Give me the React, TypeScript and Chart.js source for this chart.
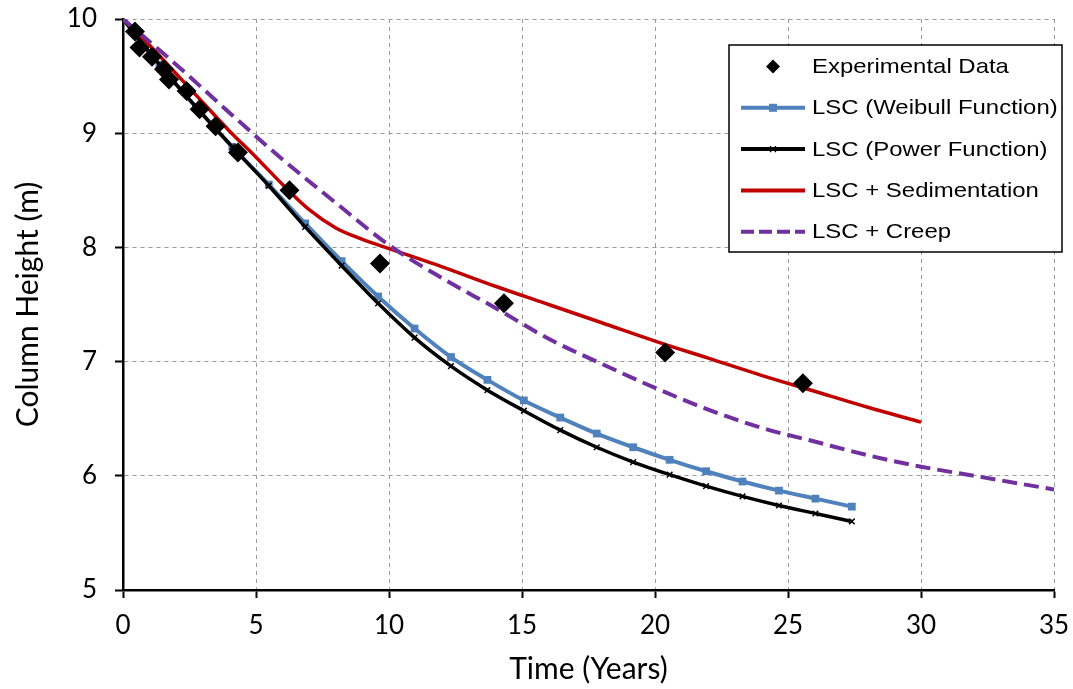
import React, { useEffect, useRef } from "react";
import { Chart, registerables } from "chart.js";

Chart.register(...registerables);

// ---- Data ----
const expX = [0.45, 0.62, 1.09, 1.54, 1.73, 2.39, 2.88, 3.48, 4.32, 6.26, 9.66, 14.32, 20.38, 25.56];
const expY = [9.89, 9.75, 9.67, 9.56, 9.47, 9.37, 9.21, 9.06, 8.83, 8.5, 7.86, 7.51, 7.08, 6.81];

const weibullX = [0, 1.37, 2.74, 4.11, 5.48, 6.85, 8.22, 9.59, 10.96, 12.33, 13.7, 15.07, 16.44, 17.81, 19.18, 20.55, 21.92, 23.29, 24.66, 26.03, 27.4];
const weibullY = [10, 9.6, 9.23, 8.88, 8.55, 8.21, 7.88, 7.57, 7.29, 7.04, 6.84, 6.66, 6.51, 6.37, 6.25, 6.14, 6.04, 5.95, 5.87, 5.8, 5.73];

const powerX = [0, 1.37, 2.74, 4.11, 5.48, 6.85, 8.22, 9.59, 10.96, 12.33, 13.7, 15.07, 16.44, 17.81, 19.18, 20.55, 21.92, 23.29, 24.66, 26.03, 27.4];
const powerY = [10, 9.6, 9.23, 8.88, 8.54, 8.18, 7.84, 7.51, 7.21, 6.96, 6.75, 6.57, 6.4, 6.25, 6.12, 6.01, 5.91, 5.82, 5.74, 5.67, 5.6];

const sedX = [0, 1, 2, 3, 4, 5, 6, 7, 8, 9, 10, 11, 12, 14, 16, 18, 20, 22, 24, 26, 28, 30];
const sedY = [10, 9.77, 9.52, 9.27, 9.02, 8.79, 8.55, 8.33, 8.17, 8.07, 7.99, 7.91, 7.83, 7.66, 7.5, 7.34, 7.18, 7.03, 6.88, 6.74, 6.6, 6.47];

const creepX = [0, 2, 4, 6, 8, 10, 12, 14, 16, 18, 20, 22, 24, 26, 28, 30, 32, 35];
const creepY = [10, 9.6, 9.18, 8.77, 8.39, 8.02, 7.73, 7.47, 7.2, 6.98, 6.77, 6.58, 6.42, 6.3, 6.18, 6.08, 6.0, 5.88];

const seriesLabels = [
  "Experimental Data",
  "LSC (Weibull Function)",
  "LSC (Power Function)",
  "LSC + Sedimentation",
  "LSC + Creep",
];

const xTitle = "Time (Years)";
const yTitle = "Column Height (m)";

const BLUE = "#4F81BD";
const RED = "#C00000";
const PURPLE = "#7030A0";

function pts(xs: number[], ys: number[]) {
  return xs.map((x, i) => ({ x, y: ys[i] }));
}

const legendPlugin = {
  id: "boxLegend",
  afterDraw(chart: any) {
    const ctx = chart.ctx as CanvasRenderingContext2D;
    const L = 729, T = 45, R = 1062, B = 252;
    ctx.save();
    ctx.fillStyle = "#ffffff";
    ctx.fillRect(L, T, R - L, B - T);
    ctx.strokeStyle = "#000000";
    ctx.lineWidth = 1.5;
    ctx.strokeRect(L, T, R - L, B - T);

    const x1 = 741, x2 = 805, mx = 773, tx = 812;
    seriesLabels.forEach((label, i) => {
      const base = 73 + i * 41.3;
      const ly = base - 6.5;
      ctx.setLineDash([]);
      if (i === 0) {
        ctx.fillStyle = "#000";
        const r = 7;
        ctx.beginPath();
        ctx.moveTo(mx - r, ly);
        ctx.lineTo(mx, ly - r);
        ctx.lineTo(mx + r, ly);
        ctx.lineTo(mx, ly + r);
        ctx.closePath();
        ctx.fill();
      } else {
        const col = i === 1 ? BLUE : i === 2 ? "#000" : i === 3 ? RED : PURPLE;
        ctx.strokeStyle = col;
        ctx.lineWidth = 4;
        if (i === 4) ctx.setLineDash([13, 5]);
        ctx.beginPath();
        ctx.moveTo(x1, ly);
        ctx.lineTo(x2, ly);
        ctx.stroke();
        ctx.setLineDash([]);
        if (i === 1) {
          ctx.fillStyle = BLUE;
          ctx.fillRect(mx - 4, ly - 4, 8, 8);
        }
        if (i === 2) {
          ctx.strokeStyle = "#000";
          ctx.lineWidth = 1.2;
          ctx.beginPath();
          ctx.moveTo(mx - 3, ly - 3);
          ctx.lineTo(mx + 3, ly + 3);
          ctx.moveTo(mx + 3, ly - 3);
          ctx.lineTo(mx - 3, ly + 3);
          ctx.stroke();
        }
      }
      ctx.save();
      ctx.translate(tx, base);
      ctx.scale(1.14, 1);
      ctx.fillStyle = "#000";
      ctx.font = '21px "Liberation Sans", Arial, sans-serif';
      ctx.textBaseline = "alphabetic";
      ctx.textAlign = "left";
      ctx.fillText(label, 0, 0);
      ctx.restore();
    });
    ctx.restore();
  },
};

export default function App() {
  const ref = useRef<HTMLCanvasElement | null>(null);

  useEffect(() => {
    document.body.style.margin = "0";
    const canvas = ref.current;
    if (!canvas) return;

    const tickFont = { family: "Lato", size: 26 };
    const titleFont = { family: "Lato", size: 30 };

    const chart = new Chart(canvas, {
      type: "scatter",
      data: {
        datasets: [
          {
            label: seriesLabels[0],
            data: pts(expX, expY),
            showLine: false,
            pointStyle: "rectRot",
            pointRadius: 10,
            pointBackgroundColor: "#000",
            pointBorderColor: "#000",
            pointBorderWidth: 0,
            order: 0,
          },
          {
            label: seriesLabels[1],
            data: pts(weibullX, weibullY),
            showLine: true,
            borderColor: BLUE,
            borderWidth: 4,
            cubicInterpolationMode: "monotone",
            pointStyle: "rect",
            pointRadius: 5.5,
            pointBackgroundColor: BLUE,
            pointBorderColor: BLUE,
            pointBorderWidth: 0,
            order: 4,
          },
          {
            label: seriesLabels[2],
            data: pts(powerX, powerY),
            showLine: true,
            borderColor: "#000",
            borderWidth: 3.5,
            cubicInterpolationMode: "monotone",
            pointStyle: "crossRot",
            pointRadius: 4,
            pointBorderColor: "#000",
            pointBackgroundColor: "#000",
            pointBorderWidth: 1.5,
            order: 3,
          },
          {
            label: seriesLabels[3],
            data: pts(sedX, sedY),
            showLine: true,
            borderColor: RED,
            borderWidth: 3.5,
            cubicInterpolationMode: "monotone",
            pointRadius: 0,
            order: 2,
          },
          {
            label: seriesLabels[4],
            data: pts(creepX, creepY),
            showLine: true,
            borderColor: PURPLE,
            borderWidth: 4,
            borderDash: [15, 7],
            cubicInterpolationMode: "monotone",
            pointRadius: 0,
            order: 1,
          },
        ],
      },
      options: {
        animation: false,
        responsive: false,
        devicePixelRatio: 1,
        layout: { padding: { top: 19, right: 19, left: 0, bottom: 0 } },
        plugins: {
          legend: { display: false },
          tooltip: { enabled: false },
        },
        scales: {
          x: {
            type: "linear",
            min: 0,
            max: 35,
            afterFit: (s: any) => {
              s.height = 99;
              s.paddingLeft = 0;
              s.paddingRight = 0;
              s.paddingTop = 0;
              s.paddingBottom = 0;
            },
            ticks: { stepSize: 5, font: tickFont, color: "#000", padding: 12, maxRotation: 0 },
            grid: {
              color: "#9a9a9a",
              lineWidth: 1,
              tickLength: 8,
              tickColor: "#000",
              tickWidth: 2,
              tickBorderDash: [],
            },
            border: { display: true, color: "#000", width: 2.5, dash: [4, 4] },
            title: {
              display: true,
              text: xTitle,
              font: titleFont,
              color: "#000",
              padding: { top: 0, bottom: 2 },
            },
          },
          y: {
            type: "linear",
            min: 5,
            max: 10,
            afterFit: (s: any) => {
              s.width = 123;
              s.paddingLeft = 0;
              s.paddingRight = 0;
              s.paddingTop = 0;
              s.paddingBottom = 0;
            },
            ticks: { stepSize: 1, font: tickFont, color: "#000", padding: 18 },
            grid: {
              color: "#9a9a9a",
              lineWidth: 1,
              tickLength: 8,
              tickColor: "#000",
              tickWidth: 2,
              tickBorderDash: [],
            },
            border: { display: true, color: "#000", width: 2.5, dash: [4, 4] },
            title: {
              display: true,
              text: yTitle,
              font: titleFont,
              color: "#000",
              padding: { top: 10, bottom: 0 },
            },
          },
        },
      } as any,
      plugins: [legendPlugin],
    });

    return () => {
      chart.destroy();
    };
  }, []);

  return (
    <div style={{ width: 1073, height: 689, background: "#fff" }}>
      <canvas ref={ref} width={1073} height={689} style={{ display: "block" }} />
    </div>
  );
}
